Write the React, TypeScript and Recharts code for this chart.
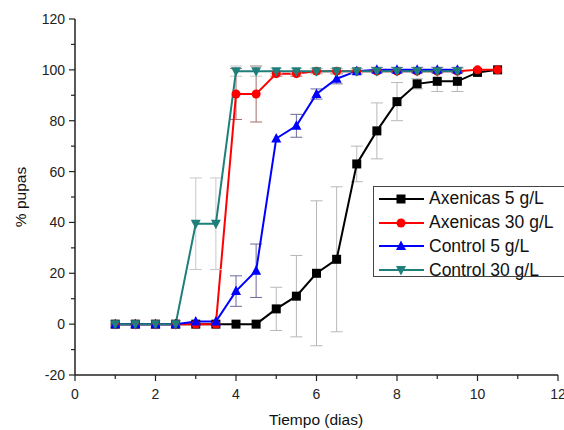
import React from 'react';
import { LineChart, Line, XAxis, YAxis, ErrorBar } from 'recharts';

const days = [1, 1.5, 2, 2.5, 3, 3.5, 4, 4.5, 5, 5.5, 6, 6.5, 7, 7.5, 8, 8.5, 9, 9.5, 10, 10.5];

const axen5 = [0, 0, 0, 0, 0, 0, 0, 0, 6, 11, 20, 25.5, 63, 76, 87.5, 94.5, 95.5, 95.5, 99, 100];
const axen5Err = [0, 0, 0, 0, 0, 0, 0, 0, 8.5, 16, 28.5, 28.5, 7, 11, 7.5, 2, 4, 4, 0, 0];

const axen30 = [0, 0, 0, 0, 0, 0, 90.5, 90.5, 98.5, 98.5, 99.5, 99.5, 99.5, 99.5, 99.5, 99.5, 99.5, 99.5, 100, 100];
const axen30Err = [0, 0, 0, 0, 0, 0, 10, 11, 1, 1, 1, 1, 0, 0, 0, 0, 0, 0, 0, 0];

const ctrl5 = [0, 0, 0, 0, 1, 1, 13, 21, 73, 78, 90.5, 96.5, 99.5, 100, 100, 100, 100, 100];
const ctrl5Err = [0, 0, 0, 0, 0, 0, 6, 10.5, 0, 4.5, 2, 2, 1, 1, 1, 1, 1, 1];

const ctrl30 = [0, 0, 0, 0, 39.5, 39.5, 99.5, 99.5, 99.5, 99.5, 99.5, 99.5, 99.5, 99.5, 99.5, 99.5, 99.5, 99.5];
const ctrl30Err = [0, 0, 0, 0, 18, 18, 2, 2, 1, 1, 1, 1, 1, 1, 1, 1, 1, 1];

const yTicks = [-20, -10, 0, 10, 20, 30, 40, 50, 60, 70, 80, 90, 100, 110, 120];
const xTicks = [0, 1, 2, 3, 4, 5, 6, 7, 8, 9, 10, 11, 12];

const rows = (vals: number[], errs: number[]) =>
  vals.map((v, i) => ({ x: days[i], y: v, e: errs[i] }));

const SERIES = [
  { name: 'Axenicas 5 g/L', color: '#000000', errColor: '#b8b8b8', shape: 'square', data: rows(axen5, axen5Err) },
  { name: 'Axenicas 30 g/L', color: '#ff0000', errColor: '#a86a6a', shape: 'circle', data: rows(axen30, axen30Err) },
  { name: 'Control 5 g/L', color: '#0000ff', errColor: '#6a6a9a', shape: 'up', data: rows(ctrl5, ctrl5Err) },
  { name: 'Control 30 g/L', color: '#1f7f7a', errColor: '#c8c8c8', shape: 'down', data: rows(ctrl30, ctrl30Err) },
];

const FONT = '"Liberation Sans", Arial, sans-serif';

function Marker({ shape, cx, cy, color }: { shape: string; cx: number; cy: number; color: string }) {
  const s = 4.5;
  if (shape === 'square') return <rect x={cx - s} y={cy - s} width={s * 2} height={s * 2} fill={color} />;
  if (shape === 'circle') return <circle cx={cx} cy={cy} r={s} fill={color} />;
  if (shape === 'up')
    return <polygon points={`${cx},${cy - s - 1} ${cx + s + 0.5},${cy + s - 0.5} ${cx - s - 0.5},${cy + s - 0.5}`} fill={color} />;
  return <polygon points={`${cx},${cy + s + 1} ${cx + s + 0.5},${cy - s + 0.5} ${cx - s - 0.5},${cy - s + 0.5}`} fill={color} />;
}

function YTick(props: any) {
  const { x, y, payload } = props;
  const axisX = x + 9;
  const major = payload.value % 20 === 0;
  return (
    <g>
      <line x1={axisX} x2={axisX - (major ? 6 : 4)} y1={y} y2={y} stroke="#222" strokeWidth={1.2} />
      {major && (
        <text x={axisX - 10} y={y} dy={5} textAnchor="end" fontSize={14} fill="#222" fontFamily={FONT}>
          {payload.value}
        </text>
      )}
    </g>
  );
}

function XTick(props: any) {
  const { x, y, payload } = props;
  const axisY = y - 9;
  const major = payload.value % 2 === 0;
  return (
    <g>
      <line x1={x} x2={x} y1={axisY} y2={axisY + (major ? 6 : 4)} stroke="#222" strokeWidth={1.2} />
      {major && (
        <text x={x} y={axisY + 24} textAnchor="middle" fontSize={14} fill="#222" fontFamily={FONT}>
          {payload.value}
        </text>
      )}
    </g>
  );
}

function LegendBox() {
  return (
    <div
      style={{
        position: 'absolute',
        left: 373,
        top: 186,
        border: '1px solid #444',
        background: '#fff',
        width: 192,
        height: 91,
        boxSizing: 'border-box',
        padding: '0 0 0 4px',
        fontFamily: FONT,
        fontSize: 17.5,
        color: '#111',
      }}
    >
      {SERIES.map((s) => (
        <div key={s.name} style={{ display: 'flex', alignItems: 'center', height: 23.8, whiteSpace: 'nowrap' }}>
          <svg width={48} height={14} style={{ flex: 'none' }}>
            <line x1={1} x2={46} y1={7} y2={7} stroke={s.color} strokeWidth={2} />
            <Marker shape={s.shape} cx={23} cy={7} color={s.color} />
          </svg>
          <span style={{ marginLeft: 3 }}>{s.name}</span>
        </div>
      ))}
    </div>
  );
}

export default function App() {
  return (
    <div style={{ position: 'absolute', left: 0, top: 0, width: 564, height: 430, background: '#fff', overflow: 'hidden' }}>
      <LineChart width={564} height={430} margin={{ top: 19, right: 6, bottom: 25, left: 0 }}>
        <XAxis
          type="number"
          dataKey="x"
          domain={[0, 12]}
          ticks={xTicks}
          tick={<XTick />}
          tickLine={false}
          tickSize={6}
          tickMargin={3}
          height={30}
          axisLine={{ stroke: '#222', strokeWidth: 1.5 }}
          allowDuplicatedCategory={false}
          interval={0}
        />
        <YAxis
          type="number"
          domain={[-20, 120]}
          ticks={yTicks}
          tick={<YTick />}
          tickLine={false}
          tickSize={6}
          tickMargin={3}
          width={75}
          axisLine={{ stroke: '#222', strokeWidth: 1.5 }}
          interval={0}
        />
        {SERIES.map((s) => (
          <Line
            key={s.name}
            data={s.data}
            dataKey="y"
            name={s.name}
            type="linear"
            stroke={s.color}
            strokeWidth={2}
            isAnimationActive={false}
            dot={(p: any) => <Marker key={`${s.name}-${p.index}`} shape={s.shape} cx={p.cx} cy={p.cy} color={s.color} />}
            activeDot={false}
          >
            <ErrorBar dataKey="e" direction="y" width={6} stroke={s.errColor} strokeWidth={1} />
          </Line>
        ))}
        <text
          x={22}
          y={197}
          transform="rotate(-90 22 197)"
          textAnchor="middle"
          dominantBaseline="middle"
          fontSize={15.5}
          fill="#111"
          fontFamily={FONT}
        >
          % pupas
        </text>
        <text x={316} y={425} textAnchor="middle" fontSize={15.5} fill="#111" fontFamily={FONT}>
          Tiempo (dias)
        </text>
      </LineChart>
      <LegendBox />
    </div>
  );
}
